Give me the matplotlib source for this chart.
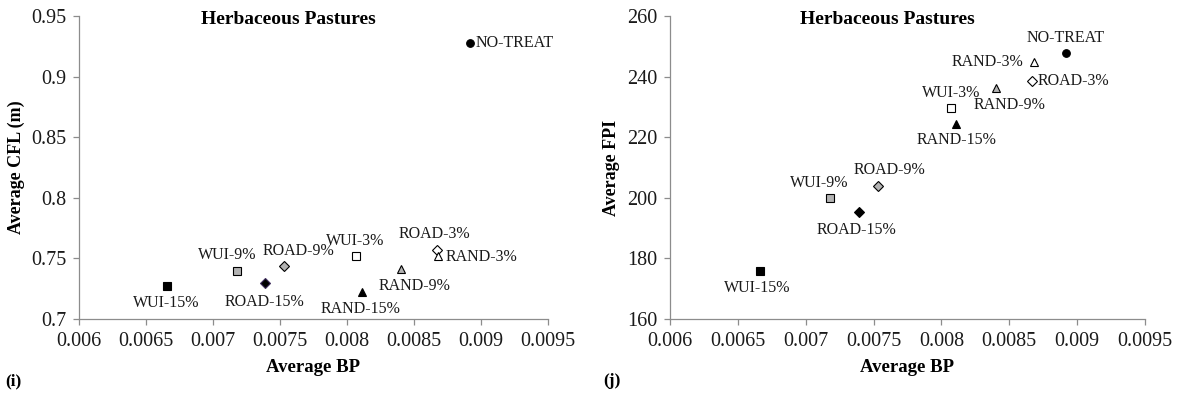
import matplotlib
matplotlib.use("Agg")
import matplotlib.pyplot as plt

plt.rcParams['font.family'] = ['Liberation Serif', 'DejaVu Serif']

# ---- data ----
labels = ['NO-TREAT', 'WUI-15%', 'WUI-9%', 'WUI-3%', 'ROAD-15%', 'ROAD-9%', 'ROAD-3%',
          'RAND-15%', 'RAND-9%', 'RAND-3%']
bp = [0.00892, 0.00666, 0.00718, 0.00807, 0.00739, 0.00753, 0.00867, 0.00811, 0.00840, 0.00868]
cfl = [0.928, 0.727, 0.740, 0.752, 0.730, 0.744, 0.757, 0.722, 0.741, 0.752]
fpi = [247.8, 175.8, 200.0, 229.6, 195.2, 204.0, 238.5, 224.5, 236.3, 244.8]

x_ticks = [0.006, 0.0065, 0.007, 0.0075, 0.008, 0.0085, 0.009, 0.0095]
x_ticklabels = ['0.006', '0.0065', '0.007', '0.0075', '0.008', '0.0085', '0.009', '0.0095']
cfl_ticks = [0.7, 0.75, 0.8, 0.85, 0.9, 0.95]
cfl_ticklabels = ['0.7', '0.75', '0.8', '0.85', '0.9', '0.95']
fpi_ticks = [160, 180, 200, 220, 240, 260]
fpi_ticklabels = ['160', '180', '200', '220', '240', '260']

# ---- styles ----
GRAY = '#B3B3B3'
styles = {
    'NO-TREAT': ('o', 'black', 'black'),
    'WUI-15%': ('s', 'black', 'black'),
    'WUI-9%': ('s', GRAY, 'black'),
    'WUI-3%': ('s', 'white', 'black'),
    'ROAD-15%': ('D', 'black', 'black'),
    'ROAD-9%': ('D', GRAY, 'black'),
    'ROAD-3%': ('D', 'white', 'black'),
    'RAND-15%': ('^', 'black', 'black'),
    'RAND-9%': ('^', GRAY, 'black'),
    'RAND-3%': ('^', 'white', 'black'),
}
sizes = {'o': 5.5, 's': 6, 'D': 5, '^': 6}

# label offsets in pixels (dx, dy, ha, va)
left_offsets = {
    'NO-TREAT': (5, 0, 'left', 'center'),
    'WUI-15%': (-1, -17, 'center', 'center'),
    'WUI-9%': (-10, 16, 'center', 'center'),
    'WUI-3%': (-1, 15, 'center', 'center'),
    'ROAD-15%': (-1, -19, 'center', 'center'),
    'ROAD-9%': (14, 15, 'center', 'center'),
    'ROAD-3%': (-2, 16, 'center', 'center'),
    'RAND-15%': (-1, -17, 'center', 'center'),
    'RAND-9%': (14, -17, 'center', 'center'),
    'RAND-3%': (7, -1, 'left', 'center'),
}
right_offsets = {
    'NO-TREAT': (-1, 15, 'center', 'center'),
    'WUI-15%': (-2, -17, 'center', 'center'),
    'WUI-9%': (-11, 15, 'center', 'center'),
    'WUI-3%': (0, 15, 'center', 'center'),
    'ROAD-15%': (-2, -18, 'center', 'center'),
    'ROAD-9%': (12, 16, 'center', 'center'),
    'ROAD-3%': (5, 0, 'left', 'center'),
    'RAND-15%': (0, -16, 'center', 'center'),
    'RAND-9%': (14, -17, 'center', 'center'),
    'RAND-3%': (-10, 0, 'right', 'center'),
}

fig = plt.figure(figsize=(11.81, 3.94), dpi=100)
W, H = 1181, 394
ax1 = fig.add_axes([79 / W, 1 - 319 / H, (548 - 79) / W, (319 - 16) / H])
ax2 = fig.add_axes([670 / W, 1 - 319 / H, (1145 - 670) / W, (319 - 16) / H])

SPINE = '#8C8C8C'


def draw(ax, yvals, yticks, yticklabels, ylim, ylabel, offsets, panel, title_x, panel_x,
         ylabel_x, purple_road15=False):
    for name, x, y in zip(labels, bp, yvals):
        m, fc, ec = styles[name]
        if purple_road15 and name == 'ROAD-15%':
            ec = '#3D2B5C'
        ax.plot([x], [y], marker=m, markersize=sizes[m], markerfacecolor=fc,
                markeredgecolor=ec, markeredgewidth=0.8, linestyle='none', zorder=3)
        dx, dy, ha, va = offsets[name]
        ax.annotate(name, (x, y), xytext=(dx, dy), textcoords='offset pixels',
                    ha=ha, va=va, fontsize=11.5, color='#1a1a1a')
    ax.set_xlim(0.006, 0.0095)
    ax.set_ylim(*ylim)
    ax.set_xticks(x_ticks)
    ax.set_xticklabels(x_ticklabels)
    ax.set_yticks(yticks)
    ax.set_yticklabels(yticklabels)
    for s in ['top', 'right']:
        ax.spines[s].set_visible(False)
    for s in ['left', 'bottom']:
        ax.spines[s].set_color(SPINE)
        ax.spines[s].set_linewidth(0.9)
    ax.tick_params(axis='both', direction='out', length=4, width=0.9, color=SPINE,
                   labelsize=14.5, labelcolor='#1a1a1a', pad=5)
    ax.set_xlabel('Average BP', fontsize=13.5, fontweight='bold', labelpad=6)
    ax.set_ylabel(ylabel, fontsize=13, fontweight='bold')
    ax.yaxis.set_label_coords(ylabel_x, 0.5)
    bb = ax.get_position()
    ty = 1 - (bb.y1 * H - (H - 20)) / (bb.height * H)
    ax.text(title_x, ty, 'Herbaceous Pastures',
            transform=ax.transAxes, ha='center', va='center', fontsize=14, fontweight='bold')
    fig.text(panel_x / W, 1 - 381 / H, panel, ha='left', va='center',
             fontsize=12.5, fontweight='bold')


draw(ax1, cfl, cfl_ticks, cfl_ticklabels, (0.7, 0.95), 'Average CFL (m)', left_offsets,
     '(i)', (288 - 79) / (548 - 79), 5, (25 - 79) / (548 - 79), purple_road15=True)
draw(ax2, fpi, fpi_ticks, fpi_ticklabels, (160, 260), 'Average FPI', right_offsets,
     '(j)', (887 - 670) / (1145 - 670), 603, (620 - 670) / (1145 - 670))

fig.savefig('out.png', dpi=100)
